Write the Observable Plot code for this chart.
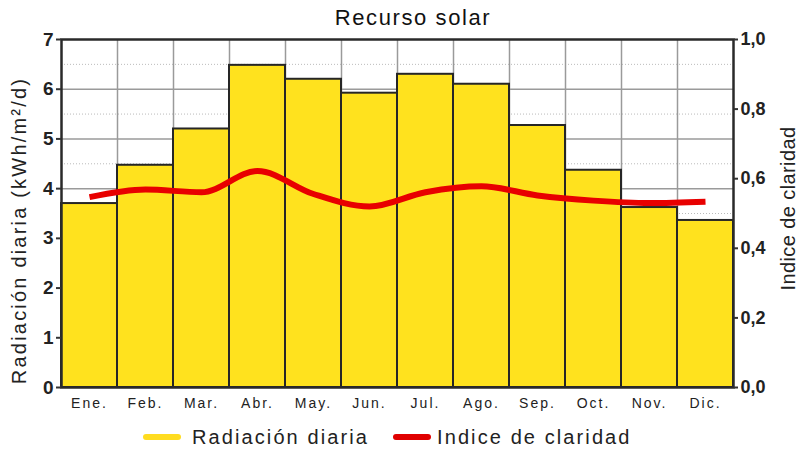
<!DOCTYPE html>
<html>
<head>
<meta charset="utf-8">
<script src="https://cdn.jsdelivr.net/npm/d3@7"></script>
<script src="https://cdn.jsdelivr.net/npm/@observablehq/plot@0.6"></script>
<style>
  html, body { margin: 0; padding: 0; background: #fff; }
  body { width: 798px; height: 450px; position: relative; overflow: hidden; font-family: "Liberation Sans", Arial, sans-serif; }
  #title { position: absolute; left: 0; top: 0; width: 798px; height: 30px; }
  #chart { position: absolute; left: 0; top: 30px; }
  #legend { position: absolute; left: 0; top: 420px; width: 798px; height: 30px; }
  .xax text { letter-spacing: 2px; }
  .yl text, .yr text { font-weight: bold; }
  .ttlL text { letter-spacing: 2.2px; }
  .ttlR text { letter-spacing: 0.4px; }
</style>
</head>
<body>
<div id="title"></div>
<div id="chart"></div>
<div id="legend"></div>
<script>
const titleText = "Recurso solar";
const months = ["Ene.", "Feb.", "Mar.", "Abr.", "May.", "Jun.", "Jul.", "Ago.", "Sep.", "Oct.", "Nov.", "Dic."];
const radiation = [3.70, 4.47, 5.20, 6.48, 6.20, 5.92, 6.30, 6.10, 5.27, 4.37, 3.62, 3.36];
const clarity = [0.547, 0.569, 0.561, 0.622, 0.556, 0.520, 0.561, 0.578, 0.552, 0.537, 0.530, 0.534];
const leftTicks = [0, 1, 2, 3, 4, 5, 6, 7];
const rightTicks = [0, 0.2, 0.4, 0.6, 0.8, 1.0];
const minorGrid = [0.5, 1.5, 2.5, 3.5, 4.5, 5.5, 6.5];
const leftMax = 7;
const rightMax = 1;

const rows = months.map((m, i) => ({ i, month: m, rad: radiation[i], clar: clarity[i] }));
const toLeft = v => v / rightMax * leftMax;

d3.select("#title").append("svg").attr("width", 798).attr("height", 30)
  .append("text").attr("x", 413).attr("y", 25).attr("text-anchor", "middle")
  .attr("font-family", "Liberation Sans, Arial, sans-serif").attr("font-size", 22)
  .attr("letter-spacing", "1.6px").attr("fill", "#111").text(titleText);

const svg = Plot.plot({
  width: 798,
  height: 390,
  marginLeft: 61,
  marginRight: 65,
  marginTop: 9,
  marginBottom: 33,
  style: { fontFamily: "Liberation Sans, Arial, sans-serif", color: "#222", background: "transparent" },
  x: { type: "linear", domain: [0, months.length] },
  y: { domain: [0, leftMax] },
  marks: [
    Plot.ruleY(minorGrid, { stroke: "#bbb", strokeDasharray: "1,2", strokeWidth: 1 }),
    Plot.ruleY(leftTicks.slice(1, -1), { stroke: "#9a9a9a", strokeWidth: 1.5 }),
    Plot.ruleX(d3.range(1, months.length), { stroke: "#9a9a9a", strokeWidth: 1.5 }),
    Plot.rectY(rows, { x1: d => d.i, x2: d => d.i + 1, y: "rad", fill: "#ffe21e", stroke: "#262626", strokeWidth: 2 }),
    Plot.line(rows, { x: d => d.i + 0.5, y: d => toLeft(d.clar), stroke: "#e80000", strokeWidth: 6, curve: "monotone-x", strokeLinecap: "butt" }),
    Plot.frame({ stroke: "#2a2a2a", strokeWidth: 2.5 }),
    Plot.axisY(leftTicks, { anchor: "left", tickSize: 5, tickPadding: 3, fontSize: 19, className: "yl", label: null, stroke: "#333", strokeWidth: 2,
      tickFormat: d => String(d) }),
    Plot.axisY(rightTicks.map(toLeft), { anchor: "right", tickSize: 4, tickPadding: 3, fontSize: 18, className: "yr", label: null, stroke: "#333", strokeWidth: 2,
      tickFormat: d => (d / leftMax * rightMax).toFixed(1).replace(".", ",") }),
    Plot.axisX(rows.map(d => d.i + 0.5), { anchor: "bottom", tickSize: 0, tickPadding: 11, fontSize: 14, className: "xax", label: null,
      tickFormat: d => months[Math.floor(d)] }),
    Plot.text(["Radiación diaria (kWh/m²/d)"], { frameAnchor: "left", textAnchor: "middle", dx: -42, dy: 17, rotate: -90, fontSize: 20, fill: "#222", className: "ttlL" }),
    Plot.text(["Indice de claridad"], { frameAnchor: "right", textAnchor: "middle", dx: 55, dy: -5, rotate: -90, fontSize: 20, fill: "#222", className: "ttlR" })
  ]
});
document.getElementById("chart").appendChild(svg);

const legendSeries = [
  { name: "Radiación diaria", color: "#ffdc20", x: 143, tx: 192 },
  { name: "Indice de claridad", color: "#e00000", x: 393, tx: 437 }
];
const lg = d3.select("#legend").append("svg").attr("width", 798).attr("height", 30)
  .style("font-family", "Liberation Sans, Arial, sans-serif");
lg.selectAll("rect").data(legendSeries).join("rect")
  .attr("x", d => d.x).attr("y", 14).attr("width", 38).attr("height", 6).attr("rx", 3)
  .attr("fill", d => d.color);
lg.selectAll("text").data(legendSeries).join("text")
  .attr("x", d => d.tx).attr("y", 24).attr("font-size", 20).attr("fill", "#222")
  .attr("letter-spacing", "2.1px")
  .text(d => d.name);
</script>
</body>
</html>
